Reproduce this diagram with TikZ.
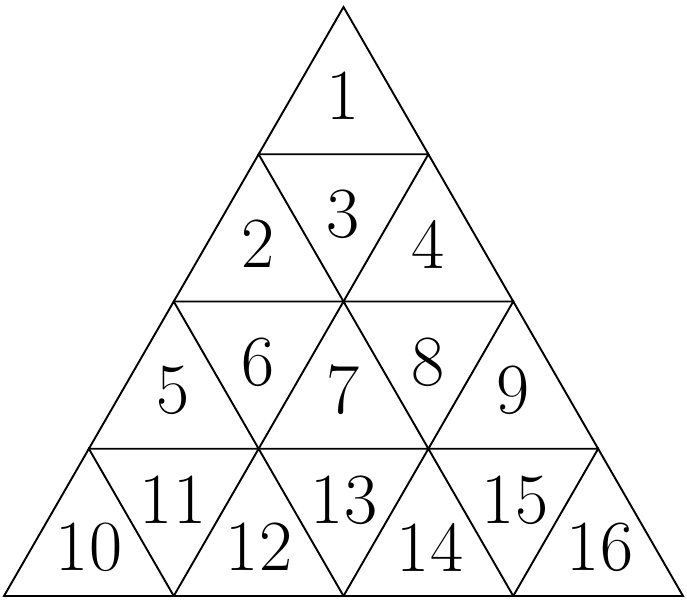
\documentclass[tikz,border=0pt]{standalone}
\begin{document}
\begin{tikzpicture}[x=1pt,y=1pt,
  edge/.style={line width=1.9pt,line join=miter,line cap=butt},
  num/.style={inner sep=0pt,font=\fontsize{72}{72}\selectfont}]
\useasboundingbox (0,0) rectangle (687,601);
% lattice points p-i-j (row i from top, j from left); image y -> 601 - y
\foreach \i in {0,...,4}{
  \foreach \j in {0,...,\i}{
    \coordinate (p-\i-\j) at ({343.5+(\j-\i/2)*169.75},{601-7-147.25*\i});
  }
}
\foreach \i in {0,...,3}{
  \pgfmathtruncatemacro{\ii}{\i+1}
  \foreach \j in {0,...,\i}{
    \pgfmathtruncatemacro{\jj}{\j+1}
    \draw[edge] (p-\i-\j) -- (p-\ii-\j) -- (p-\ii-\jj) -- cycle;
  }
}
\node[num] (n1) at (343,{601-96}) {1};
\node[num] (n2) at (258,{601-244}) {2};
\node[num] (n3) at (343,{601-214}) {3};
\node[num] (n4) at (428,{601-244}) {4};
\node[num] (n5) at (173,{601-390}) {5};
\node[num] (n6) at (258,{601-362}) {6};
\node[num] (n7) at (343,{601-390}) {7};
\node[num] (n8) at (428,{601-362}) {8};
\node[num] (n9) at (513,{601-390}) {9};
\node[num] (n10) at (89,{601-547}) {10};
\node[num] (n11) at (173,{601-500}) {11};
\node[num] (n12) at (259,{601-547}) {12};
\node[num] (n13) at (344,{601-500}) {13};
\node[num] (n14) at (430,{601-547}) {14};
\node[num] (n15) at (515,{601-500}) {15};
\node[num] (n16) at (600,{601-547}) {16};
\end{tikzpicture}
\end{document}
